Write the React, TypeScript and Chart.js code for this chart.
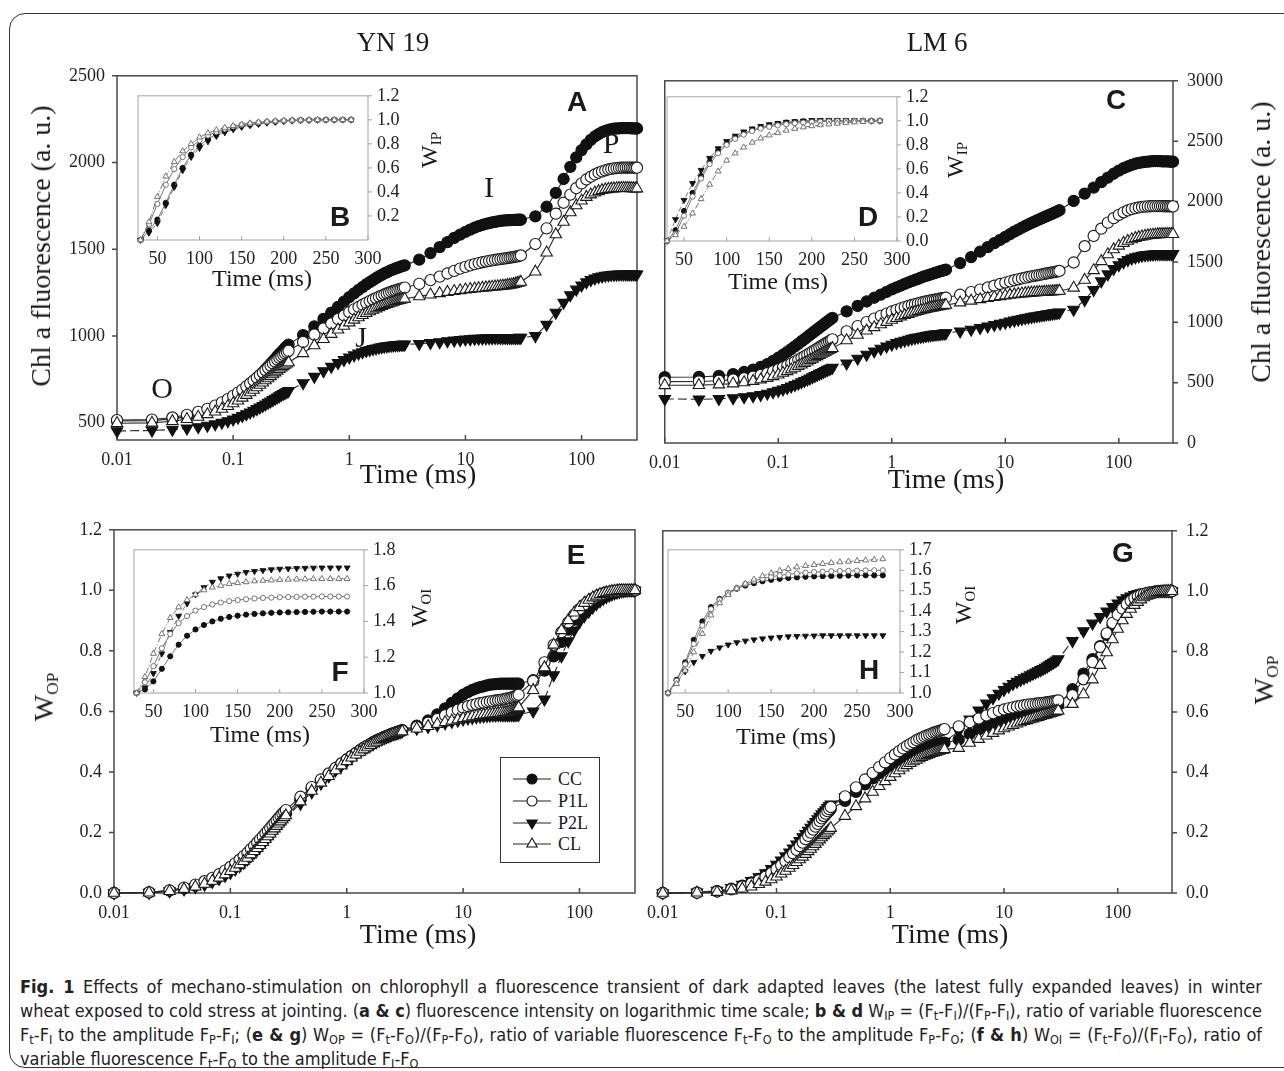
import React, { useEffect, useLayoutEffect, useRef } from 'react';
import { Chart, registerables } from 'chart.js';
Chart.register(...registerables);

const SERIF = '"Liberation Serif", "Times New Roman", "DejaVu Serif", serif';
const SANS = '"Liberation Sans", Arial, "DejaVu Sans", sans-serif';
const CAPTION_FONT = '"Liberation Sans Narrow", "DejaVu Sans Condensed", "Liberation Sans", sans-serif';

// ---------------- DATA ----------------
const TIME_MS = [
  0.01, 0.02, 0.03, 0.04, 0.05, 0.06, 0.07, 0.08, 0.09, 0.1, 0.11, 0.12, 0.13, 0.14, 0.15, 0.16, 0.17, 0.18, 0.19, 0.2,
  0.21, 0.22, 0.23, 0.24, 0.25, 0.26, 0.27, 0.28, 0.29, 0.3,
  0.4, 0.5, 0.6, 0.7, 0.8, 0.9, 1, 1.1, 1.2, 1.3, 1.4, 1.5, 1.6, 1.7, 1.8, 1.9, 2, 2.1, 2.2, 2.3, 2.4, 2.5, 2.6, 2.7, 2.8, 2.9, 3,
  4, 5, 6, 7, 8, 9, 10, 11, 12, 13, 14, 15, 16, 17, 18, 19, 20, 21, 22, 23, 24, 25, 26, 27, 28, 29, 30,
  40, 50, 60, 70, 80, 90, 100, 110, 120, 130, 140, 150, 160, 170, 180, 190, 200, 210, 220, 230, 240, 250, 260, 270, 280, 290, 300,
];

// Panel A: YN 19, Chl a fluorescence (a.u.)
const A_CC = [
  510, 512, 522, 535, 550, 566, 584, 603, 622, 642, 661, 680, 699, 718, 737, 755, 773, 790, 807, 823, 839, 854, 868, 882, 895, 907, 919, 930, 940, 950,
  1005, 1055, 1098, 1135, 1168, 1198, 1224, 1246, 1265, 1282, 1297, 1310, 1322, 1333, 1343, 1352, 1360, 1367, 1373, 1379, 1384, 1389, 1393, 1397, 1401, 1404, 1407,
  1440, 1478, 1512, 1541, 1565, 1584, 1600, 1613, 1624, 1633, 1640, 1646, 1651, 1655, 1658, 1661, 1663, 1665, 1666, 1667, 1668, 1668, 1669, 1669, 1670, 1670, 1670,
  1690, 1745, 1825, 1905, 1975, 2030, 2072, 2105, 2130, 2150, 2164, 2175, 2183, 2188, 2192, 2195, 2196, 2197, 2198, 2198, 2198, 2198, 2198, 2197, 2197, 2196, 2196,
];
const A_P1L = [
  515, 518, 530, 545, 562, 580, 598, 617, 636, 655, 673, 691, 709, 726, 743, 759, 774, 789, 803, 816, 829, 841, 852, 863, 873, 882, 891, 899, 907, 914,
  965, 1008, 1043, 1072, 1097, 1118, 1137, 1153, 1167, 1180, 1191, 1201, 1210, 1218, 1226, 1233, 1239, 1245, 1250, 1255, 1259, 1263, 1267, 1270, 1273, 1276, 1279,
  1300, 1322, 1342, 1360, 1375, 1388, 1398, 1407, 1414, 1420, 1425, 1429, 1433, 1436, 1439, 1441, 1443, 1445, 1447, 1449, 1451, 1453, 1455, 1457, 1459, 1461, 1464,
  1530, 1620, 1705, 1768, 1815, 1852, 1880, 1902, 1918, 1931, 1941, 1949, 1955, 1960, 1963, 1966, 1968, 1969, 1970, 1970, 1971, 1971, 1971, 1971, 1970, 1970, 1970,
];
const A_P2L = [
  452, 455, 460, 467, 475, 483, 491, 500, 509, 519, 529, 539, 549, 559, 569, 579, 588, 597, 606, 615, 623, 631, 639, 646, 653, 660, 666, 672, 678, 683,
  728, 765, 797, 823, 845, 862, 877, 889, 899, 907, 914, 920, 925, 929, 933, 936, 939, 941, 943, 945, 946, 947, 948, 949, 950, 950, 951,
  955, 960, 965, 970, 974, 977, 980, 982, 984, 985, 986, 987, 988, 988, 989, 989, 989, 989, 989, 989, 989, 989, 989, 989, 989, 990, 990,
  1000, 1065, 1135, 1192, 1236, 1268, 1292, 1310, 1323, 1332, 1339, 1344, 1348, 1350, 1352, 1353, 1354, 1355, 1355, 1355, 1355, 1355, 1355, 1355, 1355, 1355, 1355,
];
const A_CL = [
  497, 499, 508, 520, 533, 548, 563, 579, 595, 611, 627, 643, 659, 674, 689, 703, 717, 730, 743, 755, 767, 778, 789, 799, 808, 817, 825, 833, 840, 847,
  900, 945, 981, 1011, 1036, 1058, 1077, 1093, 1107, 1120, 1131, 1141, 1150, 1158, 1165, 1172, 1178, 1183, 1188, 1192, 1196, 1200, 1203, 1206, 1209, 1212, 1214,
  1228, 1238, 1246, 1253, 1258, 1263, 1267, 1270, 1273, 1275, 1277, 1279, 1281, 1283, 1284, 1286, 1287, 1289, 1290, 1292, 1294, 1296, 1298, 1301, 1304, 1307, 1311,
  1370, 1480, 1585, 1657, 1712, 1752, 1780, 1801, 1815, 1826, 1834, 1840, 1844, 1847, 1849, 1850, 1851, 1852, 1852, 1852, 1852, 1852, 1851, 1851, 1851, 1850, 1850,
];

// Panel C: LM 6, Chl a fluorescence (a.u.)
const C_CC = [
  545, 547, 556, 570, 588, 608, 630, 654, 680, 706, 731, 755, 778, 800, 821, 841, 860, 878, 895, 911, 926, 941, 955, 968, 981, 993, 1005, 1016, 1027, 1037,
  1090, 1135, 1172, 1203, 1229, 1252, 1272, 1289, 1304, 1318, 1330, 1341, 1351, 1360, 1369, 1377, 1384, 1391, 1397, 1403, 1409, 1414, 1419, 1424, 1428, 1432, 1436,
  1490, 1540, 1585, 1622, 1655, 1683, 1708, 1730, 1750, 1768, 1784, 1798, 1811, 1823, 1834, 1844, 1853, 1862, 1870, 1878, 1886, 1893, 1900, 1907, 1914, 1921, 1928,
  2005, 2065, 2115, 2160, 2198, 2230, 2256, 2276, 2292, 2304, 2313, 2320, 2325, 2329, 2331, 2333, 2334, 2334, 2334, 2334, 2333, 2333, 2332, 2332, 2331, 2331, 2330,
];
const C_P1L = [
  508, 510, 516, 525, 536, 549, 563, 578, 594, 610, 626, 642, 658, 674, 689, 704, 718, 732, 745, 758, 770, 782, 793, 804, 814, 824, 833, 842, 851, 859,
  925, 968, 1002, 1030, 1053, 1072, 1089, 1103, 1115, 1126, 1135, 1143, 1150, 1157, 1163, 1168, 1173, 1177, 1181, 1185, 1188, 1191, 1194, 1197, 1199, 1201, 1203,
  1228, 1250, 1270, 1288, 1303, 1317, 1329, 1339, 1348, 1356, 1363, 1369, 1375, 1380, 1385, 1389, 1393, 1397, 1400, 1404, 1407, 1410, 1413, 1416, 1419, 1422, 1425,
  1495, 1630, 1715, 1775, 1825, 1862, 1890, 1911, 1926, 1937, 1945, 1951, 1955, 1958, 1960, 1961, 1962, 1962, 1962, 1962, 1962, 1961, 1961, 1961, 1960, 1960, 1960,
];
const C_P2L = [
  365, 362, 366, 372, 380, 389, 399, 410, 421, 433, 445, 457, 469, 481, 493, 504, 515, 526, 536, 546, 556, 565, 574, 582, 590, 598, 605, 612, 619, 625,
  660, 700, 733, 760, 782, 800, 816, 829, 840, 849, 857, 864, 870, 875, 880, 884, 888, 891, 894, 897, 899, 901, 903, 905, 907, 908, 910,
  925, 940, 954, 967, 978, 989, 998, 1007, 1015, 1022, 1028, 1034, 1039, 1044, 1048, 1052, 1056, 1059, 1062, 1065, 1068, 1070, 1073, 1075, 1078, 1080, 1083,
  1105, 1185, 1268, 1340, 1398, 1442, 1474, 1498, 1516, 1529, 1539, 1546, 1552, 1556, 1559, 1561, 1563, 1564, 1565, 1566, 1566, 1566, 1566, 1566, 1566, 1566, 1566,
];
const C_CL = [
  478, 479, 484, 492, 502, 513, 525, 538, 552, 566, 580, 594, 608, 622, 636, 649, 662, 674, 686, 697, 708, 718, 728, 737, 746, 755, 763, 771, 778, 785,
  850, 895, 930, 958, 982, 1002, 1019, 1034, 1047, 1058, 1068, 1077, 1085, 1092, 1098, 1104, 1109, 1114, 1118, 1122, 1126, 1129, 1132, 1135, 1138, 1140, 1143,
  1163, 1178, 1190, 1200, 1208, 1215, 1221, 1226, 1230, 1234, 1237, 1240, 1242, 1244, 1246, 1248, 1249, 1250, 1251, 1252, 1253, 1254, 1255, 1256, 1257, 1258, 1259,
  1285, 1350, 1430, 1505, 1562, 1603, 1633, 1656, 1673, 1686, 1696, 1704, 1710, 1715, 1719, 1722, 1724, 1726, 1727, 1728, 1729, 1729, 1730, 1730, 1730, 1730, 1730,
];

// Panel E: YN 19, W_OP
const E_CC = [
  0, 0.002, 0.008, 0.015, 0.024, 0.034, 0.045, 0.056, 0.067, 0.079, 0.09, 0.101, 0.112, 0.124, 0.135, 0.146, 0.156, 0.167, 0.177, 0.186, 0.196, 0.205, 0.213, 0.222, 0.23, 0.237, 0.244, 0.251, 0.257, 0.263,
  0.31, 0.345, 0.37, 0.39, 0.41, 0.427, 0.441, 0.453, 0.463, 0.472, 0.48, 0.487, 0.493, 0.499, 0.504, 0.508, 0.512, 0.516, 0.519, 0.522, 0.525, 0.527, 0.53, 0.532, 0.534, 0.536, 0.538,
  0.553, 0.57, 0.59, 0.61, 0.628, 0.643, 0.655, 0.664, 0.671, 0.676, 0.68, 0.683, 0.686, 0.688, 0.689, 0.69, 0.691, 0.692, 0.692, 0.692, 0.692, 0.692, 0.692, 0.692, 0.692, 0.692, 0.692,
  0.703, 0.735, 0.782, 0.83, 0.87, 0.903, 0.928, 0.947, 0.961, 0.972, 0.98, 0.986, 0.99, 0.993, 0.995, 0.997, 0.998, 0.999, 1, 1, 1, 1, 1, 1, 1, 1, 1,
];
const E_P1L = [
  0, 0.002, 0.009, 0.018, 0.028, 0.039, 0.05, 0.062, 0.074, 0.086, 0.098, 0.11, 0.122, 0.133, 0.145, 0.156, 0.167, 0.177, 0.187, 0.197, 0.206, 0.215, 0.224, 0.232, 0.24, 0.248, 0.255, 0.262, 0.268, 0.274,
  0.318, 0.35, 0.375, 0.395, 0.413, 0.428, 0.441, 0.452, 0.462, 0.471, 0.479, 0.486, 0.492, 0.498, 0.503, 0.507, 0.511, 0.515, 0.518, 0.521, 0.524, 0.527, 0.529, 0.531, 0.533, 0.535, 0.537,
  0.548, 0.562, 0.575, 0.587, 0.597, 0.605, 0.612, 0.617, 0.621, 0.624, 0.627, 0.629, 0.631, 0.633, 0.634, 0.636, 0.637, 0.638, 0.64, 0.641, 0.643, 0.644, 0.646, 0.648, 0.65, 0.652, 0.655,
  0.7, 0.762, 0.82, 0.862, 0.894, 0.919, 0.938, 0.953, 0.964, 0.973, 0.98, 0.985, 0.989, 0.992, 0.994, 0.996, 0.997, 0.998, 0.999, 1, 1, 1, 1, 1, 1, 1, 1,
];
const E_P2L = [
  0, 0.001, 0.006, 0.012, 0.02, 0.028, 0.037, 0.047, 0.057, 0.067, 0.078, 0.089, 0.1, 0.111, 0.122, 0.133, 0.143, 0.153, 0.163, 0.173, 0.182, 0.191, 0.2, 0.208, 0.216, 0.224, 0.231, 0.238, 0.245, 0.251,
  0.295, 0.333, 0.362, 0.386, 0.405, 0.421, 0.435, 0.447, 0.458, 0.467, 0.475, 0.482, 0.488, 0.494, 0.499, 0.504, 0.508, 0.512, 0.515, 0.518, 0.521, 0.524, 0.526, 0.528, 0.53, 0.532, 0.534,
  0.543, 0.549, 0.555, 0.561, 0.566, 0.57, 0.574, 0.577, 0.579, 0.581, 0.583, 0.584, 0.585, 0.586, 0.587, 0.587, 0.588, 0.588, 0.588, 0.588, 0.588, 0.588, 0.588, 0.588, 0.588, 0.589, 0.589,
  0.6, 0.64, 0.72, 0.783, 0.832, 0.868, 0.895, 0.915, 0.93, 0.944, 0.955, 0.964, 0.972, 0.978, 0.983, 0.987, 0.99, 0.993, 0.995, 0.997, 0.998, 0.999, 1, 1, 1, 1, 1,
];
const E_CL = [
  0, 0.001, 0.006, 0.013, 0.021, 0.03, 0.04, 0.05, 0.061, 0.072, 0.083, 0.094, 0.105, 0.116, 0.127, 0.138, 0.148, 0.158, 0.168, 0.178, 0.187, 0.196, 0.205, 0.213, 0.221, 0.229, 0.236, 0.243, 0.25, 0.256,
  0.302, 0.337, 0.364, 0.386, 0.405, 0.421, 0.435, 0.447, 0.457, 0.466, 0.474, 0.481, 0.488, 0.494, 0.499, 0.504, 0.508, 0.512, 0.515, 0.518, 0.521, 0.524, 0.526, 0.528, 0.53, 0.532, 0.534,
  0.543, 0.551, 0.558, 0.564, 0.569, 0.573, 0.577, 0.58, 0.583, 0.585, 0.587, 0.589, 0.59, 0.591, 0.592, 0.593, 0.594, 0.595, 0.596, 0.597, 0.598, 0.6, 0.602, 0.604, 0.607, 0.61, 0.613,
  0.67, 0.745, 0.82, 0.868, 0.901, 0.926, 0.944, 0.958, 0.968, 0.976, 0.982, 0.987, 0.99, 0.993, 0.995, 0.997, 0.998, 0.999, 1, 1, 1, 1, 1, 1, 1, 1, 1,
];

// Panel G: LM 6, W_OP
const G_CC = [
  0, 0.001, 0.006, 0.014, 0.024, 0.035, 0.047, 0.059, 0.072, 0.085, 0.098, 0.111, 0.124, 0.136, 0.148, 0.16, 0.171, 0.182, 0.192, 0.202, 0.211, 0.22, 0.229, 0.237, 0.245, 0.252, 0.259, 0.266, 0.272, 0.278,
  0.305, 0.335, 0.36, 0.38, 0.397, 0.411, 0.423, 0.433, 0.442, 0.449, 0.456, 0.461, 0.466, 0.47, 0.474, 0.477, 0.48, 0.483, 0.485, 0.487, 0.489, 0.491, 0.493, 0.494, 0.496, 0.497, 0.498,
  0.508, 0.527, 0.542, 0.553, 0.562, 0.569, 0.575, 0.58, 0.584, 0.588, 0.591, 0.594, 0.597, 0.599, 0.601, 0.603, 0.605, 0.607, 0.609, 0.61, 0.612, 0.614, 0.615, 0.617, 0.619, 0.62, 0.622,
  0.675, 0.727, 0.775, 0.818, 0.855, 0.886, 0.911, 0.931, 0.946, 0.958, 0.968, 0.975, 0.981, 0.986, 0.99, 0.993, 0.995, 0.997, 0.998, 0.999, 1, 1, 1, 1, 1, 1, 1,
];
const G_P1L = [
  0, 0.001, 0.005, 0.012, 0.021, 0.031, 0.042, 0.054, 0.066, 0.079, 0.092, 0.105, 0.118, 0.131, 0.143, 0.155, 0.167, 0.178, 0.189, 0.2, 0.21, 0.22, 0.229, 0.238, 0.247, 0.255, 0.263, 0.271, 0.278, 0.285,
  0.32, 0.35, 0.376, 0.398, 0.417, 0.433, 0.447, 0.459, 0.47, 0.479, 0.487, 0.494, 0.5, 0.506, 0.511, 0.515, 0.519, 0.522, 0.525, 0.528, 0.531, 0.533, 0.535, 0.537, 0.539, 0.541, 0.543,
  0.552, 0.566, 0.578, 0.588, 0.596, 0.603, 0.608, 0.612, 0.615, 0.618, 0.62, 0.622, 0.624, 0.625, 0.626, 0.627, 0.628, 0.629, 0.63, 0.631, 0.632, 0.633, 0.634, 0.635, 0.636, 0.637, 0.638,
  0.655, 0.708, 0.765, 0.815, 0.86, 0.895, 0.922, 0.942, 0.957, 0.968, 0.977, 0.983, 0.988, 0.991, 0.994, 0.996, 0.997, 0.998, 0.999, 1, 1, 1, 1, 1, 1, 1, 1,
];
const G_P2L = [
  0, 0.002, 0.008, 0.017, 0.028, 0.04, 0.053, 0.066, 0.08, 0.094, 0.108, 0.122, 0.135, 0.148, 0.161, 0.173, 0.185, 0.196, 0.207, 0.217, 0.227, 0.236, 0.245, 0.253, 0.261, 0.268, 0.275, 0.282, 0.288, 0.294,
  0.318, 0.345, 0.366, 0.384, 0.399, 0.412, 0.423, 0.432, 0.44, 0.447, 0.453, 0.458, 0.463, 0.467, 0.471, 0.475, 0.478, 0.481, 0.484, 0.487, 0.489, 0.492, 0.494, 0.496, 0.498, 0.5, 0.502,
  0.535, 0.575, 0.605, 0.628, 0.646, 0.661, 0.673, 0.684, 0.693, 0.7, 0.706, 0.712, 0.717, 0.722, 0.727, 0.731, 0.735, 0.739, 0.743, 0.747, 0.751, 0.755, 0.759, 0.763, 0.767, 0.771, 0.775,
  0.835, 0.868, 0.893, 0.915, 0.933, 0.948, 0.96, 0.97, 0.977, 0.983, 0.988, 0.991, 0.994, 0.996, 0.997, 0.998, 0.999, 1, 1, 1, 1, 1, 1, 1, 1, 1, 1,
];
const G_CL = [
  0, 0.001, 0.003, 0.008, 0.014, 0.021, 0.029, 0.037, 0.045, 0.054, 0.064, 0.073, 0.083, 0.092, 0.102, 0.111, 0.12, 0.129, 0.138, 0.146, 0.154, 0.162, 0.17, 0.177, 0.184, 0.191, 0.197, 0.203, 0.209, 0.215,
  0.255, 0.287, 0.313, 0.335, 0.354, 0.37, 0.384, 0.396, 0.406, 0.415, 0.423, 0.43, 0.436, 0.441, 0.446, 0.45, 0.454, 0.457, 0.46, 0.463, 0.465, 0.467, 0.469, 0.471, 0.473, 0.474, 0.476,
  0.48, 0.497, 0.51, 0.521, 0.53, 0.538, 0.545, 0.551, 0.556, 0.561, 0.565, 0.569, 0.572, 0.575, 0.578, 0.581, 0.583, 0.586, 0.588, 0.59, 0.592, 0.594, 0.596, 0.598, 0.6, 0.602, 0.604,
  0.626, 0.658, 0.707, 0.755, 0.797, 0.84, 0.875, 0.903, 0.924, 0.941, 0.954, 0.964, 0.972, 0.979, 0.984, 0.988, 0.991, 0.994, 0.996, 0.997, 0.998, 0.999, 1, 1, 1, 1, 1,
];

// Insets (linear time, 30-280 ms)
const INSET_TIME_MS = [30, 40, 50, 60, 70, 80, 90, 100, 110, 120, 130, 140, 150, 160, 170, 180, 190, 200, 210, 220, 230, 240, 250, 260, 270, 280];

const B_CC = [0, 0.08, 0.17, 0.31, 0.46, 0.6, 0.71, 0.785, 0.84, 0.88, 0.91, 0.93, 0.95, 0.96, 0.97, 0.98, 0.985, 0.99, 0.995, 0.997, 0.998, 0.999, 1, 1, 1, 1];
const B_P1L = [0, 0.13, 0.3, 0.46, 0.59, 0.69, 0.77, 0.83, 0.87, 0.9, 0.925, 0.945, 0.96, 0.97, 0.978, 0.985, 0.99, 0.993, 0.996, 0.998, 0.999, 1, 1, 1, 1, 1];
const B_P2L = [0, 0.06, 0.14, 0.29, 0.44, 0.58, 0.69, 0.765, 0.82, 0.865, 0.895, 0.92, 0.94, 0.955, 0.965, 0.975, 0.982, 0.988, 0.992, 0.995, 0.997, 0.999, 1, 1, 1, 1];
const B_CL = [0, 0.15, 0.36, 0.53, 0.65, 0.74, 0.8, 0.855, 0.89, 0.915, 0.935, 0.95, 0.962, 0.972, 0.98, 0.986, 0.99, 0.994, 0.997, 0.998, 0.999, 1, 1, 1, 1, 1];

const D_CC = [0, 0.09, 0.25, 0.4, 0.54, 0.66, 0.75, 0.81, 0.86, 0.895, 0.925, 0.945, 0.96, 0.975, 0.985, 0.99, 0.995, 0.998, 1, 1, 1, 1, 1, 1, 1, 1];
const D_P1L = [0, 0.06, 0.21, 0.37, 0.52, 0.64, 0.73, 0.8, 0.85, 0.885, 0.915, 0.935, 0.95, 0.962, 0.972, 0.98, 0.985, 0.99, 0.993, 0.995, 0.997, 0.998, 0.999, 1, 1, 1];
const D_P2L = [0, 0.18, 0.34, 0.48, 0.59, 0.69, 0.77, 0.83, 0.875, 0.91, 0.935, 0.955, 0.97, 0.98, 0.99, 0.995, 1, 1.005, 1.005, 1.005, 1.005, 1.005, 1.003, 1.002, 1, 1];
const D_CL = [0, 0.05, 0.12, 0.23, 0.35, 0.47, 0.58, 0.67, 0.73, 0.78, 0.82, 0.855, 0.88, 0.9, 0.92, 0.935, 0.947, 0.957, 0.965, 0.972, 0.978, 0.984, 0.989, 0.993, 0.997, 1];

const F_CC = [1, 1.02, 1.065, 1.135, 1.205, 1.27, 1.32, 1.355, 1.38, 1.4, 1.415, 1.425, 1.432, 1.438, 1.442, 1.445, 1.448, 1.45, 1.451, 1.452, 1.453, 1.454, 1.455, 1.455, 1.455, 1.455];
const F_P1L = [1, 1.06, 1.15, 1.25, 1.33, 1.39, 1.43, 1.46, 1.48, 1.495, 1.505, 1.513, 1.519, 1.524, 1.528, 1.531, 1.533, 1.535, 1.536, 1.537, 1.538, 1.538, 1.539, 1.539, 1.539, 1.539];
const F_P2L = [1, 1.03, 1.11, 1.22, 1.34, 1.43, 1.5, 1.55, 1.59, 1.62, 1.64, 1.655, 1.665, 1.675, 1.68, 1.685, 1.69, 1.693, 1.695, 1.697, 1.698, 1.699, 1.7, 1.7, 1.7, 1.7];
const F_CL = [1, 1.09, 1.22, 1.33, 1.42, 1.48, 1.52, 1.55, 1.575, 1.59, 1.6, 1.61, 1.615, 1.62, 1.625, 1.628, 1.63, 1.632, 1.634, 1.635, 1.636, 1.637, 1.638, 1.638, 1.638, 1.638];

const H_CC = [1, 1.065, 1.15, 1.26, 1.35, 1.42, 1.46, 1.49, 1.51, 1.525, 1.537, 1.546, 1.553, 1.558, 1.562, 1.565, 1.568, 1.57, 1.571, 1.572, 1.573, 1.574, 1.575, 1.575, 1.575, 1.575];
const H_P1L = [1, 1.06, 1.14, 1.24, 1.33, 1.41, 1.455, 1.49, 1.515, 1.533, 1.548, 1.559, 1.568, 1.575, 1.58, 1.585, 1.588, 1.591, 1.593, 1.595, 1.596, 1.597, 1.598, 1.599, 1.6, 1.6];
const H_P2L = [1, 1.055, 1.105, 1.15, 1.18, 1.205, 1.222, 1.236, 1.247, 1.255, 1.261, 1.266, 1.27, 1.273, 1.276, 1.278, 1.279, 1.28, 1.281, 1.281, 1.281, 1.281, 1.281, 1.281, 1.281, 1.281];
const H_CL = [1, 1.045, 1.11, 1.2, 1.29, 1.38, 1.44, 1.48, 1.51, 1.535, 1.555, 1.572, 1.586, 1.598, 1.607, 1.615, 1.622, 1.627, 1.632, 1.636, 1.64, 1.643, 1.646, 1.649, 1.652, 1.655];

// Ticks
const LOG_TICKS = [0.01, 0.1, 1, 10, 100];
const LOG_TICK_LABELS = ['0.01', '0.1', '1', '10', '100'];
const INSET_X_TICKS = [50, 100, 150, 200, 250, 300];
const A_Y_TICKS = [500, 1000, 1500, 2000, 2500];
const C_Y_TICKS = [0, 500, 1000, 1500, 2000, 2500, 3000];
const WOP_TICKS = [0, 0.2, 0.4, 0.6, 0.8, 1.0, 1.2];
const B_Y_TICKS = [0.2, 0.4, 0.6, 0.8, 1.0, 1.2];
const D_Y_TICKS = [0, 0.2, 0.4, 0.6, 0.8, 1.0, 1.2];
const F_Y_TICKS = [1.0, 1.2, 1.4, 1.6, 1.8];
const H_Y_TICKS = [1.0, 1.1, 1.2, 1.3, 1.4, 1.5, 1.6, 1.7];

const SERIES_NAMES = ['CC', 'P1L', 'P2L', 'CL'];

// ---------------- STYLES ----------------
type Kind = 'cc' | 'p1l' | 'p2l' | 'cl';
const KIND_STYLE: Record<Kind, any> = {
  cc: { pointStyle: 'circle', rot: 0, fill: '#111', open: false },
  p1l: { pointStyle: 'circle', rot: 0, fill: '#fff', open: true },
  p2l: { pointStyle: 'triangle', rot: 180, fill: '#111', open: false },
  cl: { pointStyle: 'triangle', rot: 0, fill: '#fff', open: true },
};

function makeDataset(xs: number[], ys: number[], kind: Kind, inset: boolean) {
  const st = KIND_STYLE[kind];
  const tri = st.pointStyle === 'triangle';
  const radius = inset ? (tri ? 3.4 : 2.6) : tri ? 6.6 : 5.6;
  let dash: number[] = [];
  if (kind === 'p2l') dash = inset ? [5, 3] : [9, 4];
  if (kind === 'cl' && inset) dash = [6, 2, 1, 2];
  return {
    data: xs.map((x, i) => ({ x, y: ys[i] })),
    borderColor: inset ? '#6a6a6a' : '#2a2a2a',
    borderWidth: inset ? 0.9 : 1.1,
    borderDash: dash,
    pointStyle: st.pointStyle,
    pointRotation: st.rot,
    pointRadius: radius,
    pointBackgroundColor: st.fill,
    pointBorderColor: st.open ? (inset ? '#666' : '#1a1a1a') : '#111',
    pointBorderWidth: inset ? 0.9 : 1.1,
    tension: 0,
    fill: false,
    clip: false,
  };
}

const framePlugin = {
  id: 'frame',
  beforeDraw(chart: any, _a: any, opts: any) {
    if (!opts || !opts.bg) return;
    const { ctx, chartArea: a } = chart;
    ctx.save();
    ctx.fillStyle = opts.bg;
    ctx.fillRect(a.left, a.top, a.right - a.left, a.bottom - a.top);
    ctx.restore();
  },
  beforeDatasetsDraw(chart: any, _a: any, opts: any) {
    const { ctx, chartArea: a } = chart;
    ctx.save();
    ctx.strokeStyle = opts.color;
    ctx.lineWidth = opts.width;
    ctx.strokeRect(a.left, a.top, a.right - a.left, a.bottom - a.top);
    ctx.beginPath();
    const xs = chart.scales.x;
    const ys = chart.scales.y;
    xs.ticks.forEach((t: any) => {
      const px = xs.getPixelForValue(t.value);
      ctx.moveTo(px, a.bottom);
      ctx.lineTo(px, a.bottom - opts.len);
    });
    ys.ticks.forEach((t: any) => {
      const py = ys.getPixelForValue(t.value);
      if (opts.ySide === 'left') {
        ctx.moveTo(a.left, py);
        ctx.lineTo(a.left - opts.len, py);
      } else {
        ctx.moveTo(a.right, py);
        ctx.lineTo(a.right + opts.len, py);
      }
    });
    ctx.stroke();
    ctx.restore();
  },
};

interface PanelSpec {
  rect: { l: number; t: number; r: number; b: number };
  ySide: 'left' | 'right';
  inset: boolean;
  xType: 'logarithmic' | 'linear';
  xMin: number;
  xMax: number;
  xTicks: number[];
  xLabels: string[];
  yMin: number;
  yMax: number;
  yTicks: number[];
  yDecimals: number;
  xs: number[];
  series: { data: number[]; kind: Kind }[];
}

function geometry(spec: PanelSpec) {
  const AXW = spec.inset ? 50 : 90;
  const AXH = spec.inset ? 30 : 40;
  const PAD = spec.inset ? 6 : 14;
  const { l, t, r, b } = spec.rect;
  const w = r - l + AXW + PAD;
  const h = b - t + PAD + AXH;
  const x = spec.ySide === 'left' ? l - AXW : l - PAD;
  const y = t - PAD;
  return { AXW, AXH, PAD, w, h, x, y };
}

function buildConfig(spec: PanelSpec): any {
  const g = geometry(spec);
  const inset = spec.inset;
  const yLabels = spec.yTicks.map((v) => v.toFixed(spec.yDecimals));
  const tickFont = { family: SERIF, size: 18 };
  return {
    type: 'line',
    data: { datasets: spec.series.map((s) => makeDataset(spec.xs, s.data, s.kind, inset)) },
    options: {
      animation: false,
      responsive: false,
      devicePixelRatio: 1,
      events: [],
      layout: {
        autoPadding: false,
        padding: {
          left: spec.ySide === 'left' ? 0 : g.PAD,
          right: spec.ySide === 'left' ? g.PAD : 0,
          top: g.PAD,
          bottom: 0,
        },
      },
      plugins: {
        legend: { display: false },
        tooltip: { enabled: false },
        frame: {
          color: inset ? '#a3a3a3' : '#4a4a4a',
          width: inset ? 1 : 1.5,
          len: inset ? 4 : 5,
          ySide: spec.ySide,
          bg: inset ? '#ffffff' : null,
        },
      },
      scales: {
        x: {
          type: spec.xType,
          position: 'bottom',
          min: spec.xMin,
          max: spec.xMax,
          afterBuildTicks: (s: any) => {
            s.ticks = spec.xTicks.map((v) => ({ value: v }));
          },
          afterFit: (s: any) => {
            s.height = g.AXH;
          },
          grid: { display: false, drawTicks: false },
          border: { display: false },
          ticks: {
            autoSkip: false,
            maxRotation: 0,
            minRotation: 0,
            padding: inset ? 8 : 9,
            color: '#222',
            font: tickFont,
            callback: (_v: any, i: number) => spec.xLabels[i],
          },
        },
        y: {
          type: 'linear',
          position: spec.ySide,
          min: spec.yMin,
          max: spec.yMax,
          afterBuildTicks: (s: any) => {
            s.ticks = spec.yTicks.map((v) => ({ value: v }));
          },
          afterFit: (s: any) => {
            s.width = g.AXW;
          },
          grid: { display: false, drawTicks: false },
          border: { display: false },
          ticks: {
            autoSkip: false,
            padding: inset ? 9 : spec.ySide === 'left' ? 12 : 14,
            color: '#222',
            font: tickFont,
            callback: (_v: any, i: number) => yLabels[i],
          },
        },
      },
    },
    plugins: [framePlugin],
  };
}

function ChartPanel({ spec }: { spec: PanelSpec }) {
  const ref = useRef<HTMLCanvasElement>(null);
  useEffect(() => {
    const chart = new Chart(ref.current as HTMLCanvasElement, buildConfig(spec));
    return () => chart.destroy();
  }, []);
  const g = geometry(spec);
  return (
    <canvas
      ref={ref}
      width={g.w}
      height={g.h}
      style={{ position: 'absolute', left: g.x, top: g.y, width: g.w, height: g.h }}
    />
  );
}

const mainSeries = (cc: number[], p1l: number[], p2l: number[], cl: number[]) => [
  { data: cl, kind: 'cl' as Kind },
  { data: p1l, kind: 'p1l' as Kind },
  { data: p2l, kind: 'p2l' as Kind },
  { data: cc, kind: 'cc' as Kind },
];

const logX = {
  xType: 'logarithmic' as const,
  xMin: 0.01,
  xMax: 300,
  xTicks: LOG_TICKS,
  xLabels: LOG_TICK_LABELS,
  xs: TIME_MS,
};
const linX = (min: number) => ({
  xType: 'linear' as const,
  xMin: min,
  xMax: 300,
  xTicks: INSET_X_TICKS,
  xLabels: INSET_X_TICKS.map(String),
  xs: INSET_TIME_MS,
});

const PANELS: PanelSpec[] = [
  { rect: { l: 117, t: 67, r: 637, b: 440 }, ySide: 'left', inset: false, ...logX, yMin: 400, yMax: 2500, yTicks: A_Y_TICKS, yDecimals: 0, series: mainSeries(A_CC, A_P1L, A_P2L, A_CL) },
  { rect: { l: 654, t: 70, r: 1173, b: 443 }, ySide: 'right', inset: false, ...logX, yMin: 0, yMax: 3000, yTicks: C_Y_TICKS, yDecimals: 0, series: mainSeries(C_CC, C_P1L, C_P2L, C_CL) },
  { rect: { l: 114, t: 521, r: 635, b: 893 }, ySide: 'left', inset: false, ...logX, yMin: 0, yMax: 1.2, yTicks: WOP_TICKS, yDecimals: 1, series: mainSeries(E_CC, E_P1L, E_P2L, E_CL) },
  { rect: { l: 652, t: 520, r: 1172, b: 893 }, ySide: 'right', inset: false, ...logX, yMin: 0, yMax: 1.2, yTicks: WOP_TICKS, yDecimals: 1, series: mainSeries(G_CC, G_P1L, G_P2L, G_CL) },
  { rect: { l: 138, t: 82, r: 368, b: 240 }, ySide: 'right', inset: true, ...linX(27), yMin: 0, yMax: 1.2, yTicks: B_Y_TICKS, yDecimals: 1, series: mainSeries(B_CC, B_P1L, B_P2L, B_CL) },
  { rect: { l: 667, t: 83, r: 897, b: 241 }, ySide: 'right', inset: true, ...linX(30), yMin: 0, yMax: 1.2, yTicks: D_Y_TICKS, yDecimals: 1, series: mainSeries(D_CC, D_P1L, D_P2L, D_CL) },
  { rect: { l: 134, t: 536, r: 364, b: 693 }, ySide: 'right', inset: true, ...linX(27), yMin: 1.0, yMax: 1.8, yTicks: F_Y_TICKS, yDecimals: 1, series: mainSeries(F_CC, F_P1L, F_P2L, F_CL) },
  { rect: { l: 668, t: 536, r: 900, b: 693 }, ySide: 'right', inset: true, ...linX(30), yMin: 1.0, yMax: 1.7, yTicks: H_Y_TICKS, yDecimals: 1, series: mainSeries(H_CC, H_P1L, H_P2L, H_CL) },
];

// ---------------- TEXT OVERLAYS ----------------
function Txt(props: { x: number; y: number; size: number; font?: string; rot?: boolean; bold?: boolean; children: any }) {
  const { x, y, size, font = SERIF, rot = false, bold = false, children } = props;
  return (
    <div
      style={{
        position: 'absolute',
        left: x,
        top: y,
        transform: `translate(-50%, -50%)${rot ? ' rotate(-90deg)' : ''}`,
        fontFamily: font,
        fontSize: size,
        fontWeight: bold ? 700 : 400,
        whiteSpace: 'nowrap',
        lineHeight: 1,
        color: '#1a1a1a',
      }}
    >
      {children}
    </div>
  );
}

const Sub = ({ children, size = '0.62em' }: { children: any; size?: string }) => (
  <sub style={{ fontSize: size, lineHeight: 0, verticalAlign: '-0.28em' }}>{children}</sub>
);

function LegendMarker({ kind }: { kind: Kind }) {
  const st = KIND_STYLE[kind];
  const cx = 19;
  const cy = 8;
  let marker;
  if (st.pointStyle === 'circle') {
    marker = <circle cx={cx} cy={cy} r={5} fill={st.fill} stroke="#111" strokeWidth={1.1} />;
  } else {
    const r = 6;
    const pts =
      st.rot === 180
        ? `${cx},${cy + r} ${cx - r * 0.866},${cy - r / 2} ${cx + r * 0.866},${cy - r / 2}`
        : `${cx},${cy - r} ${cx - r * 0.866},${cy + r / 2} ${cx + r * 0.866},${cy + r / 2}`;
    marker = <polygon points={pts} fill={st.fill} stroke="#111" strokeWidth={1.1} />;
  }
  return (
    <svg width={38} height={16} style={{ position: 'absolute', left: 12, top: -8 }}>
      <line x1={0} y1={cy} x2={38} y2={cy} stroke="#222" strokeWidth={1.1} />
      {marker}
    </svg>
  );
}

function Legend() {
  const kinds: Kind[] = ['cc', 'p1l', 'p2l', 'cl'];
  const rowsY = [21, 43, 65, 86];
  return (
    <div
      style={{
        position: 'absolute',
        left: 500,
        top: 757,
        width: 100,
        height: 106,
        border: '1px solid #333',
        background: '#fff',
        boxSizing: 'border-box',
      }}
    >
      {kinds.map((k, i) => (
        <div key={k} style={{ position: 'absolute', left: 0, top: rowsY[i] }}>
          <LegendMarker kind={k} />
          <span
            style={{
              position: 'absolute',
              left: 57,
              top: -10,
              fontFamily: SERIF,
              fontSize: 18,
              lineHeight: '20px',
              whiteSpace: 'nowrap',
              color: '#1a1a1a',
            }}
          >
            {SERIES_NAMES[i]}
          </span>
        </div>
      ))}
    </div>
  );
}

function CaptionLine({ top, justify, children }: { top: number; justify: boolean; children: any }) {
  const ref = useRef<HTMLSpanElement>(null);
  useLayoutEffect(() => {
    const el = ref.current as HTMLSpanElement;
    const W = 1242;
    const w = el.getBoundingClientRect().width;
    if (w > W) {
      el.style.display = 'inline-block';
      el.style.transformOrigin = 'left center';
      el.style.transform = `scaleX(${W / w})`;
    } else if (justify) {
      const spaces = ((el.textContent || '').match(/ /g) || []).length;
      if (spaces) el.style.wordSpacing = `${(W - w) / spaces}px`;
    }
  }, []);
  return (
    <div
      style={{
        position: 'absolute',
        left: 20,
        top: top - 12,
        height: 24,
        lineHeight: '24px',
        whiteSpace: 'nowrap',
        fontFamily: CAPTION_FONT,
        fontStretch: 'condensed',
        fontSize: 18,
        color: '#222',
      }}
    >
      <span ref={ref}>{children}</span>
    </div>
  );
}

const CS = ({ children }: { children: any }) => (
  <sub style={{ fontSize: '0.7em', lineHeight: 0, verticalAlign: '-0.25em' }}>{children}</sub>
);

export default function App() {
  return (
    <div
      style={{
        position: 'fixed',
        left: 0,
        top: 0,
        width: 1284,
        height: 1071,
        overflow: 'hidden',
        background: '#fff',
      }}
    >
      <div
        style={{
          position: 'absolute',
          left: 9,
          top: 13,
          width: 1300,
          height: 1055,
          border: '1.5px solid #333',
          borderRadius: 16,
          boxSizing: 'border-box',
        }}
      />
      {PANELS.map((p, i) => (
        <ChartPanel key={i} spec={p} />
      ))}

      {/* column titles */}
      <Txt x={393} y={42} size={27}>YN 19</Txt>
      <Txt x={937} y={42} size={27}>LM 6</Txt>

      {/* main axis titles */}
      <Txt x={41} y={246} size={28} rot>Chl a fluorescence (a. u.)</Txt>
      <Txt x={1261} y={242} size={28} rot>Chl a fluorescence (a. u.)</Txt>
      <Txt x={44} y={697} size={28} rot>W<Sub>OP</Sub></Txt>
      <Txt x={1264} y={680} size={28} rot>W<Sub>OP</Sub></Txt>
      <Txt x={418} y={474} size={28}>Time (ms)</Txt>
      <Txt x={946} y={479} size={28}>Time (ms)</Txt>
      <Txt x={418} y={934} size={28}>Time (ms)</Txt>
      <Txt x={950} y={934} size={28}>Time (ms)</Txt>

      {/* inset titles */}
      <Txt x={262} y={278} size={24}>Time (ms)</Txt>
      <Txt x={778} y={281} size={24}>Time (ms)</Txt>
      <Txt x={260} y={734} size={24}>Time (ms)</Txt>
      <Txt x={786} y={736} size={24}>Time (ms)</Txt>
      <Txt x={429} y={150} size={24} rot>W<Sub>IP</Sub></Txt>
      <Txt x={955} y={160} size={24} rot>W<Sub>IP</Sub></Txt>
      <Txt x={419} y={608} size={24} rot>W<Sub>OI</Sub></Txt>
      <Txt x={963} y={605} size={24} rot>W<Sub>OI</Sub></Txt>

      {/* panel letters */}
      <Txt x={577} y={102} size={28} font={SANS} bold>A</Txt>
      <Txt x={340} y={217} size={28} font={SANS} bold>B</Txt>
      <Txt x={1116} y={100} size={28} font={SANS} bold>C</Txt>
      <Txt x={868} y={217} size={28} font={SANS} bold>D</Txt>
      <Txt x={576} y={555} size={28} font={SANS} bold>E</Txt>
      <Txt x={340} y={672} size={28} font={SANS} bold>F</Txt>
      <Txt x={1123} y={553} size={28} font={SANS} bold>G</Txt>
      <Txt x={869} y={670} size={28} font={SANS} bold>H</Txt>

      {/* OJIP step labels */}
      <Txt x={162} y={388} size={30}>O</Txt>
      <Txt x={361} y={337} size={30}>J</Txt>
      <Txt x={489} y={187} size={30}>I</Txt>
      <Txt x={611} y={143} size={30}>P</Txt>

      <Legend />

      {/* caption */}
      <CaptionLine top={987} justify>
        <b>Fig. 1</b> Effects of mechano-stimulation on chlorophyll a fluorescence transient of dark adapted leaves (the latest fully expanded leaves) in winter
      </CaptionLine>
      <CaptionLine top={1011} justify>
        wheat exposed to cold stress at jointing. (<b>a &amp; c</b>) fluorescence intensity on logarithmic time scale; <b>b &amp; d</b> W<CS>IP</CS> = (F<CS>t</CS>-F<CS>I</CS>)/(F<CS>P</CS>-F<CS>I</CS>), ratio of variable fluorescence
      </CaptionLine>
      <CaptionLine top={1035} justify>
        F<CS>t</CS>-F<CS>I</CS> to the amplitude F<CS>P</CS>-F<CS>I</CS>; (<b>e &amp; g</b>) W<CS>OP</CS> = (F<CS>t</CS>-F<CS>O</CS>)/(F<CS>P</CS>-F<CS>O</CS>), ratio of variable fluorescence F<CS>t</CS>-F<CS>O</CS> to the amplitude F<CS>P</CS>-F<CS>O</CS>; (<b>f &amp; h</b>) W<CS>OI</CS> = (F<CS>t</CS>-F<CS>O</CS>)/(F<CS>I</CS>-F<CS>O</CS>), ratio of
      </CaptionLine>
      <CaptionLine top={1059} justify={false}>
        variable fluorescence F<CS>t</CS>-F<CS>O</CS> to the amplitude F<CS>I</CS>-F<CS>O</CS>
      </CaptionLine>
    </div>
  );
}
